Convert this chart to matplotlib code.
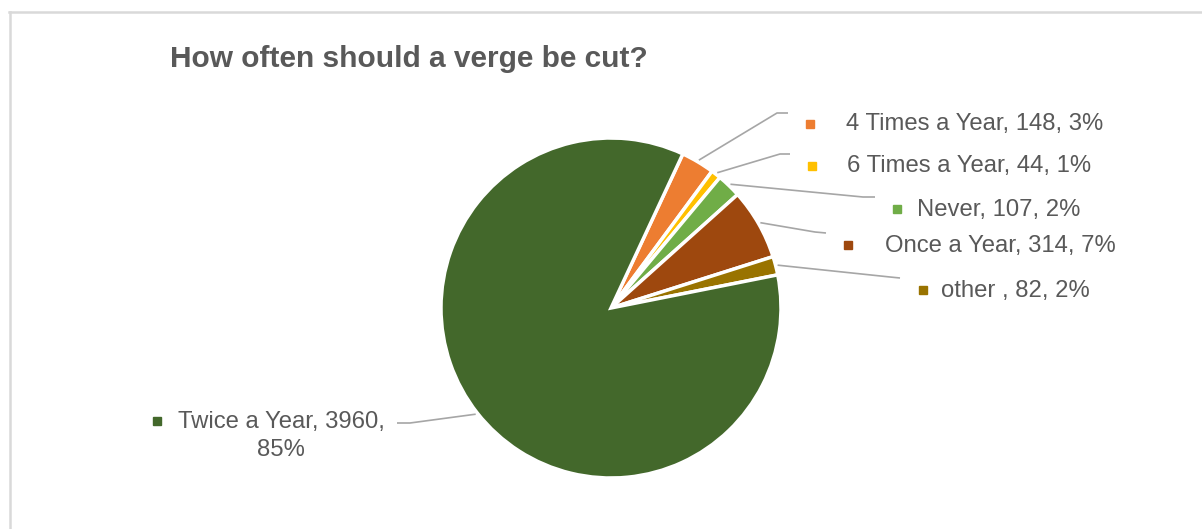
import numpy as np
import matplotlib
matplotlib.use('Agg')
import matplotlib.pyplot as plt
from matplotlib.lines import Line2D

# dati del grafico
categorie = ['4 Times a Year', '6 Times a Year', 'Never', 'Once a Year', 'other ', 'Twice a Year']
risposte = [148, 44, 107, 314, 82, 3960]
colori = ['#ED7D31', '#FFC000', '#70AD47', '#9E480E', '#997300', '#43682B']

titolo = 'How often should a verge be cut?'

W, H = 1202, 529
testo_col = '#595959'
linea_col = '#A6A6A6'
font = 'Liberation Sans'

# posizione delle etichette (pixel, y dall'alto): gomito, fine linea, quadratino, testo
layout = [
    ((777, 113), (788, 113), (810, 124), (846, 124), 'left'),
    ((780, 154), (790, 154), (812, 166), (847, 166), 'left'),
    ((863, 197), (875, 197), (897, 209), (917, 210), 'left'),
    ((815, 232), (826, 233), (848, 245), (885, 246), 'left'),
    ((890, 277), (900, 278), (923, 290), (941, 291), 'left'),
    ((410, 423), (397, 423), (157, 421), (281, 436), 'center'),
]

fig = plt.figure(figsize=[W / 100, H / 100], dpi=100)
ax = fig.add_axes([0, 0, 1, 1])

centro = (611, H - 308)
raggio = 170
spicchi, _ = ax.pie(risposte, colors=colori, startangle=65, counterclock=False,
                    center=centro, radius=raggio,
                    wedgeprops=dict(edgecolor='white', linewidth=2.5))
ax.set_xlim(0, W)
ax.set_ylim(0, H)
ax.set_aspect('equal')
ax.axis('off')

totale = sum(risposte)
for i in range(len(categorie)):
    w = spicchi[i]
    medio = np.deg2rad((w.theta1 + w.theta2) / 2)
    x0 = centro[0] + 172 * np.cos(medio)
    y0 = centro[1] + 172 * np.sin(medio)
    gomito, fine, quad, pos_testo, allinea = layout[i]
    ax.plot([x0, gomito[0], fine[0]], [y0, H - gomito[1], H - fine[1]],
            color=linea_col, lw=1.2, solid_capstyle='butt')
    ax.plot(quad[0], H - quad[1], marker='s', ms=5.5, color=colori[i], linestyle='none')
    perc = '{:.0f}%'.format(100 * risposte[i] / totale)
    if categorie[i] == 'Twice a Year':
        etichetta = '{}, {},\n{}'.format(categorie[i], risposte[i], perc)
    else:
        etichetta = '{}, {}, {}'.format(categorie[i], risposte[i], perc)
    ax.text(pos_testo[0], H - pos_testo[1], etichetta, ha=allinea, va='center',
            fontsize=17.2, color=testo_col, family=font, linespacing=1.3,
            multialignment='center')

fig.text(170 / W, 1 - 67 / H, titolo, ha='left', va='baseline', fontsize=21.5,
         fontweight='bold', color=testo_col, family=font)

# bordo del grafico
fig.add_artist(Line2D([9 / W, 1], [1 - 11.5 / H, 1 - 11.5 / H], color='#D9D9D9', lw=1.8))
fig.add_artist(Line2D([10 / W, 10 / W], [0, 1 - 11.5 / H], color='#D9D9D9', lw=1.8))

fig.savefig('out.png', dpi=100)
